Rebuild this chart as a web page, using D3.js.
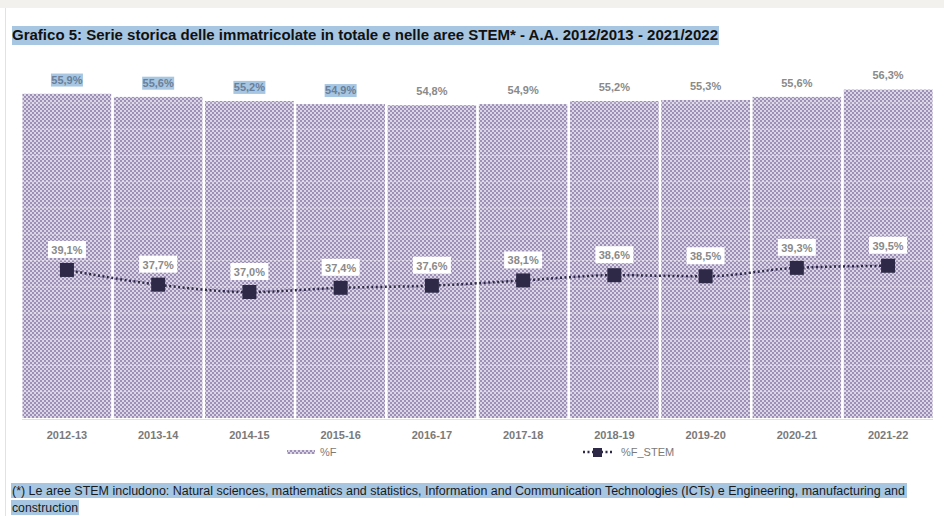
<!DOCTYPE html>
<html><head><meta charset="utf-8">
<script src="https://cdn.jsdelivr.net/npm/d3@7"></script>
<style>body{margin:0;background:#fff}svg{display:block}</style>
</head><body>
<script>
const categories = ["2012-13","2013-14","2014-15","2015-16","2016-17","2017-18","2018-19","2019-20","2020-21","2021-22"];
const pctF = [55.9,55.6,55.2,54.9,54.8,54.9,55.2,55.3,55.6,56.3];
const pctFSTEM = [39.1,37.7,37.0,37.4,37.6,38.1,38.6,38.5,39.3,39.5];
const highlighted = [true,true,true,true,false,false,false,false,false,false];
const fmt = v => v.toFixed(1).replace(".", ",") + "%";

const W = 944, H = 516;
const svg = d3.select("body").append("svg").attr("width", W).attr("height", H);
const defs = svg.append("defs");
const pat = defs.append("pattern").attr("id","dots").attr("patternUnits","userSpaceOnUse")
  .attr("width",4).attr("height",4);
pat.append("rect").attr("width",4).attr("height",4).attr("fill","#dbd5e6");
pat.append("rect").attr("x",0).attr("y",0).attr("width",2).attr("height",2).attr("fill","#9c90b6");
pat.append("rect").attr("x",2).attr("y",2).attr("width",2).attr("height",2).attr("fill","#9c90b6");

// page frame
svg.append("rect").attr("x",0).attr("y",0).attr("width",W).attr("height",8).attr("fill","#f2f1ee");
svg.append("line").attr("x1",5.5).attr("x2",5.5).attr("y1",8).attr("y2",H).attr("stroke","#e4e2dc");

// title
const titleStr = "Grafico 5: Serie storica delle immatricolate in totale e nelle aree STEM* - A.A. 2012/2013 - 2021/2022";
svg.append("rect").attr("x",12).attr("y",26).attr("width",707).attr("height",19).attr("fill","#a7c6e2");
svg.append("text").attr("x",12).attr("y",40).attr("font-family","Liberation Sans, Arial, sans-serif")
  .attr("font-weight","bold").attr("font-size",14).attr("fill","#111")
  .attr("textLength",706).attr("lengthAdjust","spacingAndGlyphs").text(titleStr);

const x = d3.scaleBand().domain(categories).range([22, 933]).paddingInner(0.025).paddingOuter(0.005);
const y = d3.scaleLinear().domain([25, 60]).range([418, 50.5]);

const g = svg.append("g");
g.selectAll("rect.bar").data(categories).join("rect").attr("class","bar")
  .attr("x", d => x(d)).attr("width", x.bandwidth())
  .attr("y", (d,i) => y(pctF[i])).attr("height", (d,i) => y(25) - y(pctF[i]))
  .attr("fill","url(#dots)");

// faint gridlines inside bars
const gridVals = d3.range(27.5, 57.5, 2.5);
g.selectAll("line.grid").data(gridVals).join("line").attr("class","grid")
  .attr("x1",22).attr("x2",933).attr("y1",d=>y(d)).attr("y2",d=>y(d))
  .attr("stroke","#ffffff").attr("stroke-opacity",0.3).attr("stroke-width",1);
// white separators between bars
g.selectAll("rect.sep").data(categories.slice(1)).join("rect").attr("class","sep")
  .attr("x", d => x(d) - x.step()*x.paddingInner()).attr("width", x.step()*x.paddingInner())
  .attr("y", 50).attr("height", 370).attr("fill","#fff");
// mask above bars
g.selectAll("rect.top").data(categories).join("rect").attr("class","top")
  .attr("x", d => x(d)).attr("width", x.bandwidth())
  .attr("y", 50).attr("height", (d,i) => Math.max(0, y(pctF[i]) - 50)).attr("fill","#fff");

// baseline
g.append("line").attr("x1",22).attr("x2",933).attr("y1",419.5).attr("y2",419.5).attr("stroke","#e0e0e0");

// bar value labels
const bl = g.selectAll("g.bl").data(categories).join("g").attr("class","bl");
bl.filter((d,i)=>highlighted[i]).append("rect")
  .attr("x", d => x(d) + x.bandwidth()/2 - 16).attr("y", (d,i) => y(pctF[i]) - 20)
  .attr("width",32).attr("height",13).attr("fill","#a7c6e2");
bl.append("text").attr("x", d => x(d) + x.bandwidth()/2).attr("y", (d,i) => y(pctF[i]) - 10)
  .attr("text-anchor","middle").attr("font-family","Liberation Sans, Arial, sans-serif")
  .attr("font-weight","bold").attr("font-size",11).attr("fill",(d,i)=>highlighted[i]?"#6a7f99":"#8a8a8a")
  .text((d,i) => fmt(pctF[i]));

// line
const pts = categories.map((c,i) => [x(c) + x.bandwidth()/2, y(pctFSTEM[i])]);
g.append("path").attr("d", d3.line().curve(d3.curveMonotoneX)(pts))
  .attr("fill","none").attr("stroke","#2d2946").attr("stroke-width",2.5)
  .attr("stroke-dasharray","2,2.5");
g.selectAll("rect.pt").data(categories).join("rect").attr("class","pt")
  .attr("x", d => x(d) + x.bandwidth()/2 - 7).attr("y", (d,i) => y(pctFSTEM[i]) - 7)
  .attr("width",14).attr("height",14).attr("fill","#2d2946");
const ll = g.selectAll("g.ll").data(categories).join("g").attr("class","ll");
ll.append("rect").attr("x", d => x(d) + x.bandwidth()/2 - 19).attr("y", (d,i) => y(pctFSTEM[i]) - 29)
  .attr("width",38).attr("height",17).attr("fill","#fff");
ll.append("text").attr("x", d => x(d) + x.bandwidth()/2).attr("y", (d,i) => y(pctFSTEM[i]) - 16)
  .attr("text-anchor","middle").attr("font-family","Liberation Sans, Arial, sans-serif")
  .attr("font-weight","bold").attr("font-size",11).attr("fill","#8a8a8a")
  .text((d,i) => fmt(pctFSTEM[i]));

// x axis
const xAxis = svg.append("g").attr("transform","translate(0,420)")
  .call(d3.axisBottom(x).tickSize(0).tickPadding(11));
xAxis.select(".domain").remove();
xAxis.selectAll("text").attr("font-family","Liberation Sans, Arial, sans-serif")
  .attr("font-weight","bold").attr("font-size",11).attr("fill","#7a7a7a");

// legend
const lg = svg.append("g").attr("font-family","Liberation Sans, Arial, sans-serif")
  .attr("font-size",11).attr("fill","#7a7a7a");
lg.append("rect").attr("x",287).attr("y",450).attr("width",28).attr("height",4).attr("fill","url(#dots)");
lg.append("text").attr("x",320).attr("y",456).text("%F");
lg.append("line").attr("x1",583).attr("x2",613).attr("y1",452).attr("y2",452)
  .attr("stroke","#2d2946").attr("stroke-width",2.5).attr("stroke-dasharray","2,2.5");
lg.append("rect").attr("x",593).attr("y",448).attr("width",9).attr("height",9).attr("fill","#2d2946");
lg.append("text").attr("x",621).attr("y",456).text("%F_STEM");

// footnote
const fn1 = "(*) Le aree STEM includono: Natural sciences, mathematics and statistics, Information and Communication Technologies (ICTs) e Engineering, manufacturing and";
const fn2 = "construction";
svg.append("rect").attr("x",11).attr("y",483).attr("width",896).attr("height",15).attr("fill","#a7c6e2");
svg.append("rect").attr("x",11).attr("y",500).attr("width",68).attr("height",15).attr("fill","#a7c6e2");
svg.append("text").attr("x",12).attr("y",495).attr("font-family","Liberation Sans Narrow, Liberation Sans, Arial, sans-serif")
  .attr("font-size",12).attr("fill","#1a1a1a").attr("textLength",893).attr("lengthAdjust","spacingAndGlyphs").text(fn1);
svg.append("text").attr("x",12).attr("y",512).attr("font-family","Liberation Sans Narrow, Liberation Sans, Arial, sans-serif")
  .attr("font-size",12).attr("fill","#1a1a1a").attr("textLength",66).attr("lengthAdjust","spacingAndGlyphs").text(fn2);
</script>
</body></html>
